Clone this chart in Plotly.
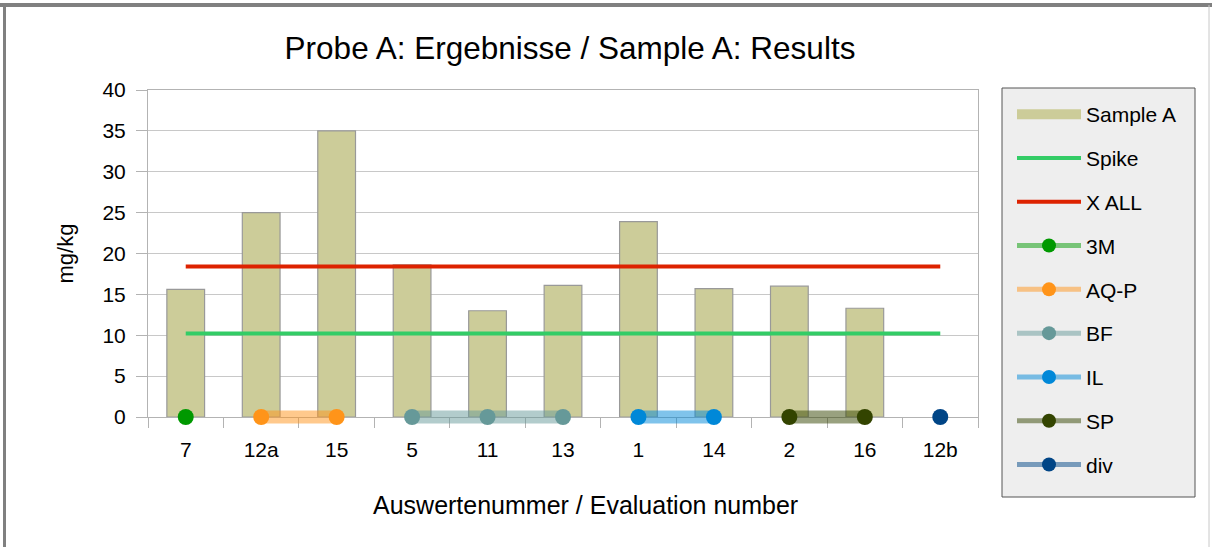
import plotly.graph_objects as go

categories = ['7', '12a', '15', '5', '11', '13', '1', '14', '2', '16', '12b']
sample_a = [15.6, 25.0, 35.0, 18.6, 13.0, 16.1, 23.9, 15.7, 16.0, 13.3, None]
spike_value = 10.2
xall_value = 18.4

groups = ['3M', 'AQ-P', 'BF', 'IL', 'SP', 'div']
group_members = {
    '3M': ['7'],
    'AQ-P': ['12a', '15'],
    'BF': ['5', '11', '13'],
    'IL': ['1', '14'],
    'SP': ['2', '16'],
    'div': ['12b'],
}
group_marker_colors = {
    '3M': '#009900', 'AQ-P': '#ff9419', 'BF': '#669999',
    'IL': '#0088d8', 'SP': '#334400', 'div': '#004586',
}
group_line_colors = {
    '3M': 'rgba(0,153,0,0.5)', 'AQ-P': 'rgba(255,148,25,0.5)', 'BF': 'rgba(102,153,153,0.5)',
    'IL': 'rgba(0,136,216,0.5)', 'SP': 'rgba(51,68,0,0.5)', 'div': 'rgba(0,69,134,0.5)',
}

FONT = 'Liberation Sans, Arial, sans-serif'

W, H = 1212, 547
L, R, T, B = 148, 978, 90, 417   # main plot area (pixels)
B2 = 434                          # extended bottom for the group bands (so they are not clipped)
Y_MAX = 40

def px_x(p):
    return (p - L) / (R - L)

def px_y(p):
    return (B2 - p) / (B2 - T)

unit_px = (B - T) / Y_MAX
y2_low = -(B2 - B) / unit_px

fig = go.Figure()
fig.add_trace(go.Bar(
    x=categories, y=sample_a, name='Sample A',
    marker=dict(color='#cccc99', line=dict(color='#999999', width=1.2)),
    legendgroup='a', showlegend=False,
))
fig.add_trace(go.Scatter(
    x=[None], y=[None], name='Sample A', mode='lines',
    line=dict(color='#cccc99', width=10), legendgroup='a',
))
fig.add_trace(go.Scatter(
    x=categories, y=[spike_value] * len(categories), name='Spike', mode='lines',
    line=dict(color='#33cc66', width=4), legendgroup='b',
))
fig.add_trace(go.Scatter(
    x=categories, y=[xall_value] * len(categories), name='X ALL', mode='lines',
    line=dict(color='#dd2200', width=4), legendgroup='c',
))
for g in groups:
    xs = group_members[g]
    fig.add_trace(go.Scatter(
        x=xs, y=[0] * len(xs), name=g, mode='lines+markers', yaxis='y2',
        line=dict(color=group_line_colors[g], width=13),
        marker=dict(color=group_marker_colors[g], size=16),
        cliponaxis=False, legendgroup=g, showlegend=False,
    ))
    fig.add_trace(go.Scatter(
        x=[None], y=[None], name=g, mode='lines+markers',
        line=dict(color=group_line_colors[g], width=5),
        marker=dict(color=group_marker_colors[g], size=14),
        legendgroup=g,
    ))

shapes = [
    # outer frame
    dict(type='line', xref='paper', yref='paper', x0=px_x(0), x1=px_x(W), y0=px_y(5), y1=px_y(5),
         line=dict(color='#808080', width=4)),
    dict(type='line', xref='paper', yref='paper', x0=px_x(4.5), x1=px_x(4.5), y0=px_y(5), y1=px_y(H),
         line=dict(color='#808080', width=3)),
    dict(type='line', xref='paper', yref='paper', x0=px_x(1209), x1=px_x(1209), y0=px_y(5), y1=px_y(H),
         line=dict(color='#c8c8c8', width=1)),
    # legend box
    dict(type='rect', xref='paper', yref='paper', x0=px_x(1002), x1=px_x(1195),
         y0=px_y(497), y1=px_y(88), fillcolor='#eeeeee', line=dict(color='#555555', width=1)),
]

annotations = [
    dict(text='Auswertenummer / Evaluation number', xref='paper', yref='paper',
         x=px_x(585), y=px_y(505), xanchor='center', yanchor='middle', showarrow=False,
         font=dict(size=25, family=FONT, color='#000000')),
]

fig.update_layout(
    width=W, height=H,
    margin=dict(l=L, r=W - R, t=T, b=H - B2, autoexpand=False),
    paper_bgcolor='white', plot_bgcolor='rgba(0,0,0,0)',
    font=dict(family=FONT, size=21, color='#000000'),
    title=dict(text='Probe A: Ergebnisse / Sample A: Results', x=570 / W, xanchor='center',
               y=1 - 48 / H, yanchor='middle', font=dict(size=31.5, family=FONT)),
    bargap=0.5,
    showlegend=True,
    legend=dict(
        x=px_x(1012), xanchor='left', y=px_y(94), yanchor='top',
        bgcolor='rgba(0,0,0,0)', borderwidth=0,
        font=dict(size=21, family=FONT), itemwidth=64,
        tracegroupgap=13.5, traceorder='grouped',
        entrywidth=110, maxheight=520,
    ),
    shapes=shapes,
    annotations=annotations,
    xaxis=dict(
        type='category', range=[-0.5, len(categories) - 0.5], anchor='y',
        showline=True, linecolor='#b3b3b3', linewidth=1, mirror=True,
        ticks='outside', tickson='boundaries', ticklen=10, tickcolor='#b3b3b3',
        showgrid=False, ticklabelstandoff=14,
    ),
    yaxis=dict(
        domain=[px_y(B), 1],
        range=[0, Y_MAX], dtick=5, showline=True, linecolor='#b3b3b3', linewidth=1, mirror=True,
        ticks='outside', ticklen=11, tickcolor='#b3b3b3', gridcolor='#c8c8c8', gridwidth=1,
        zeroline=False, ticklabelstandoff=6,
        title=dict(text='mg/kg', standoff=22, font=dict(size=22)),
    ),
    yaxis2=dict(
        domain=[0, 1], anchor='x', range=[y2_low, Y_MAX], visible=False,
        showgrid=False, zeroline=False,
    ),
)

fig.write_html('out.html', config={'displayModeBar': False},
               post_script="document.body.style.margin='0';")
